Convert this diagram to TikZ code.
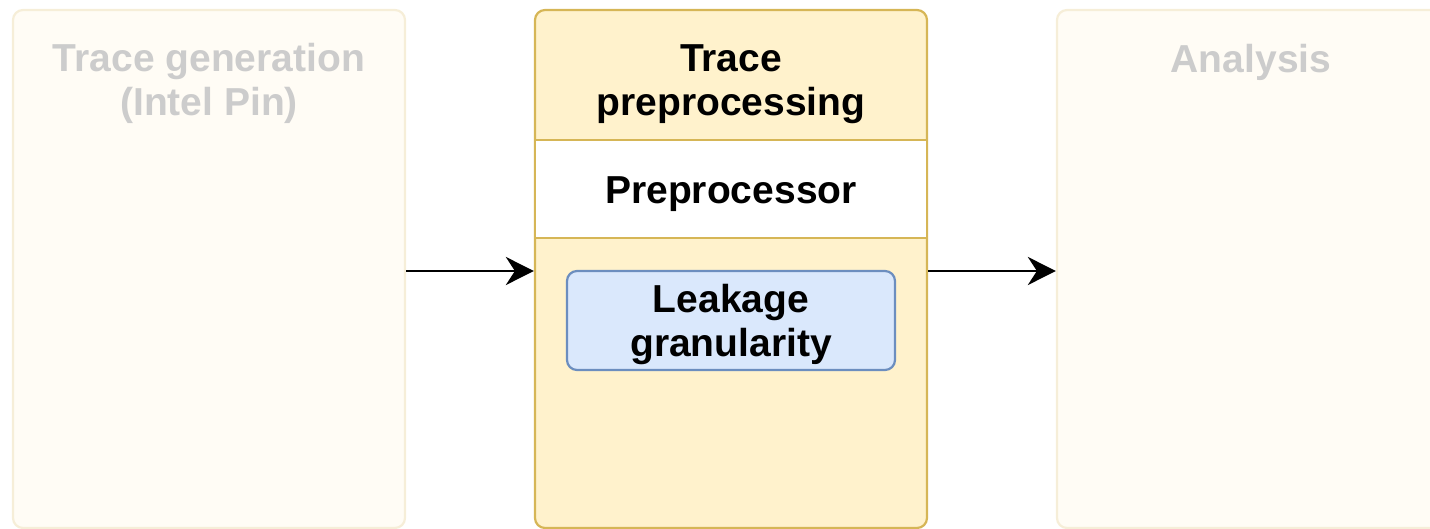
\documentclass[tikz,border=0pt]{standalone}
\usepackage{fontspec}
\setmainfont{Liberation Sans}
\usetikzlibrary{arrows.meta}
\definecolor{yfill}{HTML}{FFF2CC}
\definecolor{ystroke}{HTML}{D6B656}
\definecolor{bfill}{HTML}{DAE8FC}
\definecolor{bstroke}{HTML}{6C8EBF}
\definecolor{fadefill}{HTML}{FFFCF5}
\definecolor{fadestroke}{HTML}{F6EED8}
\definecolor{fadetext}{HTML}{CCCCCC}
\begin{document}
\begin{tikzpicture}[x=1pt,y=-1pt,
  lbl/.style={font=\bfseries\fontsize{39}{44}\selectfont, align=center, inner sep=0pt},
  stage/.style={rectangle, rounded corners=10pt, minimum width=392pt, minimum height=518pt, line width=2.2pt, inner sep=0pt},
  faded/.style={stage, fill=fadefill, draw=fadestroke},
  active/.style={stage, fill=yfill, draw=ystroke},
  arr/.style={line width=2.8pt, -{Stealth[length=28pt,width=28pt,inset=9pt]}}]
\useasboundingbox (0,0) rectangle (1430,529);
\clip (0,0) rectangle (1430,529);

\node[faded] (gen) at (209,269) {};
\node[active] (pre) at (731,269) {};
\node[faded] (ana) at (1253,269) {};

\node[rectangle, fill=white, draw=ystroke, line width=2.2pt, minimum width=392pt, minimum height=98pt, inner sep=0pt] (prep) at (731,189) {};

\node[rectangle, rounded corners=10pt, fill=bfill, draw=bstroke, line width=2.2pt, minimum width=328pt, minimum height=99pt, inner sep=0pt] (leak) at (731,320.5) {};

\node[lbl, text=fadetext] (gent) at (209,83) {Trace generation\\(Intel Pin)};
\node[lbl] (pret) at (731,84) {Trace\\preprocessing};
\node[lbl, text=fadetext] (anat) at (1251,62) {Analysis};
\node[lbl] (prept) at (731,194) {Preprocessor};
\node[lbl] (leakt) at (731,325) {Leakage\\granularity};

\draw[arr] ([yshift=-2pt]gen.east) -- ([yshift=-2pt]pre.west);
\draw[arr] ([yshift=-2pt]pre.east) -- ([yshift=-2pt]ana.west);
\end{tikzpicture}
\end{document}
